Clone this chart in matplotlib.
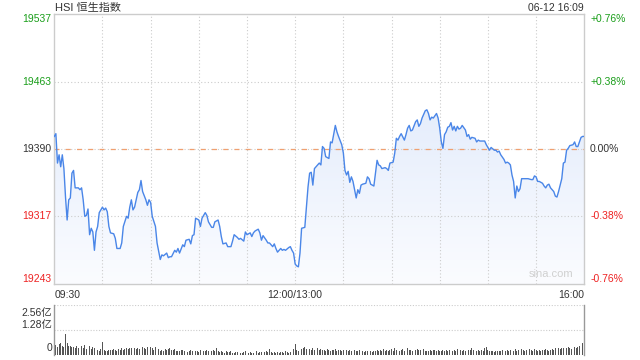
"""
HSI intraday chart (price + volume), sina style.
"""
import numpy as np
import matplotlib
matplotlib.use('Agg')
import matplotlib.pyplot as plt

plt.rcParams['font.family'] = ['Liberation Sans', 'Noto Sans CJK SC', 'DejaVu Sans']

title = 'HSI 恒生指数'
stamp = '06-12 16:09'
prev_close = 19390
y_ticks = [19243, 19317, 19390, 19463, 19537]
pct_labels = ['-0.76%', '-0.38%', '0.00%', '+0.38%', '+0.76%']
x_ticks = [0, 150, 330]
x_labels = ['09:30', '12:00/13:00', '16:00']
vol_ticks = [0, 1.28, 2.56]
vol_labels = ['0', '1.28亿', '2.56亿']

# minutes since 09:30 (lunch break removed)
minutes = [
    0, 1, 2, 3, 4, 5, 6, 7, 8, 9, 10, 11, 12, 13, 15, 16, 17, 18, 19, 20,
    21, 22, 23, 24, 25, 26, 27, 28, 30, 31, 32, 33, 34, 35, 37, 38, 39, 41, 42, 43,
    45, 46, 47, 48, 49, 50, 52, 53, 54, 55, 57, 58, 59, 60, 61, 63, 64, 66, 67, 68,
    70, 71, 72, 73, 75, 76, 77, 78, 80, 81, 82, 84, 85, 86, 87, 88, 90, 91, 92, 94,
    95, 96, 98, 99, 100, 102, 103, 104, 105, 107, 108, 110, 111, 112, 114, 115, 116, 118, 119, 120,
    122, 123, 124, 125, 127, 128, 129, 130, 132, 133, 134, 136, 137, 138, 139, 141, 142, 143, 144, 146,
    147, 148, 149, 150, 151, 152, 153, 154, 156, 157, 158, 159, 160, 161, 162, 163, 165, 166, 167, 168,
    169, 171, 172, 173, 175, 176, 177, 179, 180, 181, 182, 183, 184, 185, 186, 188, 189, 190, 191, 192,
    194, 195, 196, 197, 199, 200, 201, 202, 203, 204, 206, 207, 208, 209, 211, 212, 213, 214, 215, 216,
    218, 219, 220, 221, 222, 223, 225, 226, 227, 228, 229, 231, 232, 233, 234, 235, 236, 238, 239, 240,
    241, 242, 243, 244, 245, 246, 247, 248, 249, 250, 251, 252, 253, 254, 256, 257, 258, 259, 260, 262,
    263, 264, 265, 267, 268, 269, 270, 271, 272, 274, 275, 276, 277, 278, 280, 281, 282, 283, 284, 285,
    286, 287, 288, 289, 290, 291, 292, 294, 295, 297, 298, 299, 300, 301, 302, 304, 305, 306, 307, 308,
    309, 311, 312, 313, 314, 316, 317, 318, 319, 320, 321, 323, 324, 325, 326, 327, 328, 329, 330,
]
index_values = [
    19404, 19407, 19375, 19384, 19371, 19384, 19369, 19338, 19313, 19335, 19337, 19364, 19367, 19348, 19348, 19346, 19348, 19335, 19317, 19318,
    19325, 19297, 19304, 19300, 19280, 19300, 19306, 19321, 19327, 19324, 19326, 19322, 19306, 19299, 19298, 19293, 19282, 19282, 19288, 19306,
    19317, 19315, 19327, 19335, 19324, 19327, 19343, 19346, 19356, 19344, 19335, 19329, 19335, 19332, 19317, 19306, 19288, 19270, 19275, 19274,
    19277, 19272, 19273, 19273, 19280, 19278, 19282, 19277, 19286, 19284, 19291, 19292, 19287, 19296, 19297, 19315, 19313, 19306, 19315, 19321,
    19318, 19311, 19305, 19305, 19311, 19313, 19306, 19295, 19287, 19288, 19284, 19284, 19290, 19297, 19294, 19292, 19293, 19290, 19300, 19297,
    19299, 19295, 19299, 19301, 19303, 19299, 19291, 19296, 19291, 19288, 19288, 19284, 19287, 19282, 19278, 19282, 19280, 19281, 19280, 19283,
    19284, 19280, 19277, 19265, 19263, 19262, 19277, 19304, 19305, 19327, 19349, 19364, 19365, 19351, 19369, 19371, 19375, 19373, 19393, 19391,
    19382, 19380, 19398, 19397, 19416, 19409, 19404, 19395, 19386, 19367, 19362, 19366, 19354, 19360, 19355, 19337, 19346, 19342, 19351, 19352,
    19353, 19360, 19358, 19352, 19350, 19364, 19378, 19373, 19372, 19369, 19370, 19369, 19367, 19375, 19376, 19386, 19402, 19400, 19404, 19407,
    19400, 19406, 19413, 19416, 19410, 19411, 19420, 19422, 19415, 19418, 19424, 19432, 19433, 19429, 19422, 19425, 19424, 19429, 19424, 19413,
    19398, 19391, 19406, 19409, 19414, 19415, 19419, 19411, 19415, 19410, 19415, 19412, 19413, 19416, 19411, 19404, 19406, 19401, 19403, 19402,
    19398, 19400, 19399, 19399, 19399, 19395, 19392, 19389, 19392, 19389, 19389, 19387, 19388, 19384, 19379, 19375, 19376, 19375, 19373, 19362,
    19355, 19337, 19350, 19344, 19347, 19358, 19358, 19358, 19358, 19357, 19357, 19361, 19360, 19355, 19355, 19353, 19350, 19348, 19351, 19352,
    19348, 19344, 19339, 19338, 19344, 19358, 19375, 19376, 19389, 19391, 19394, 19395, 19398, 19393, 19393, 19398, 19403, 19404, 19404,
]

# turnover per minute, in 亿 (minute 0..330)
volume = [
    0.72, 0.50, 0.42, 0.55, 0.62, 0.45, 0.40, 1.05, 0.60, 0.48, 0.45, 0.42, 0.40, 0.38, 0.45, 0.35, 0.42, 0.48, 0.38, 0.52, 0.32, 0.55, 0.45, 0.30, 0.40, 0.35, 0.28, 0.25, 0.22, 0.30,
    0.68, 0.25, 0.22, 0.20, 0.28, 0.26, 0.25, 0.30, 0.28, 0.22, 0.30, 0.24, 0.35, 0.28, 0.32, 0.36, 0.30, 0.34, 0.35, 0.30, 0.38, 0.32, 0.36, 0.30, 0.28, 0.40, 0.35, 0.30, 0.42, 0.28,
    0.40, 0.38, 0.25, 0.42, 0.36, 0.30, 0.22, 0.28, 0.20, 0.32, 0.26, 0.30, 0.34, 0.28, 0.24, 0.30, 0.22, 0.18, 0.20, 0.26, 0.24, 0.18, 0.22, 0.16, 0.20, 0.26, 0.18, 0.15, 0.22, 0.20,
    0.16, 0.24, 0.18, 0.22, 0.20, 0.26, 0.18, 0.24, 0.20, 0.28, 0.22, 0.34, 0.22, 0.16, 0.20, 0.14, 0.12, 0.18, 0.14, 0.16, 0.20, 0.12, 0.10, 0.16, 0.14, 0.18, 0.12, 0.10, 0.14, 0.20,
    0.14, 0.12, 0.16, 0.10, 0.12, 0.14, 0.18, 0.10, 0.14, 0.16, 0.12, 0.14, 0.18, 0.16, 0.32, 0.14, 0.12, 0.16, 0.12, 0.14, 0.10, 0.14, 0.16, 0.12, 0.18, 0.14, 0.12, 0.16, 0.22, 0.30,
    0.58, 0.28, 0.22, 0.36, 0.30, 0.34, 0.40, 0.32, 0.26, 0.30, 0.24, 0.34, 0.28, 0.30, 0.38, 0.26, 0.32, 0.24, 0.28, 0.22, 0.30, 0.26, 0.20, 0.28, 0.24, 0.30, 0.20, 0.24, 0.28, 0.22,
    0.26, 0.20, 0.24, 0.18, 0.28, 0.22, 0.20, 0.26, 0.18, 0.22, 0.24, 0.18, 0.20, 0.16, 0.22, 0.18, 0.24, 0.20, 0.16, 0.18, 0.22, 0.28, 0.20, 0.24, 0.18, 0.30, 0.22, 0.26, 0.20, 0.24,
    0.30, 0.22, 0.38, 0.28, 0.24, 0.20, 0.26, 0.30, 0.22, 0.28, 0.34, 0.24, 0.28, 0.22, 0.30, 0.26, 0.32, 0.24, 0.28, 0.22, 0.30, 0.20, 0.18, 0.22, 0.26, 0.20, 0.24, 0.28, 0.22, 0.26,
    0.20, 0.18, 0.24, 0.20, 0.26, 0.22, 0.28, 0.24, 0.20, 0.26, 0.22, 0.30, 0.24, 0.28, 0.20, 0.26, 0.22, 0.32, 0.24, 0.28, 0.34, 0.26, 0.22, 0.18, 0.24, 0.20, 0.26, 0.22, 0.36, 0.40,
    0.24, 0.20, 0.18, 0.22, 0.16, 0.20, 0.18, 0.22, 0.20, 0.24, 0.18, 0.22, 0.26, 0.20, 0.24, 0.28, 0.22, 0.32, 0.20, 0.26, 0.22, 0.30, 0.24, 0.20, 0.28, 0.24, 0.32, 0.26, 0.22, 0.30,
    0.24, 0.20, 0.26, 0.22, 0.28, 0.24, 0.30, 0.26, 0.22, 0.28, 0.32, 0.26, 0.34, 0.30, 0.36, 0.32, 0.38, 0.34, 0.30, 0.36, 0.40, 0.36, 0.32, 0.38, 0.42, 0.36, 0.40, 0.48, 0.38, 0.60,
    2.60,
]

UP = '#1a9e1a'
DOWN = '#ee2222'
LINE = '#4a86e8'
GRID = '#cccccc'
TXT = '#333333'

fig = plt.figure(figsize=(6.4, 3.6), dpi=100)
ax = fig.add_axes([0.0848, 0.2103, 0.8281, 0.75])
axv = fig.add_axes([0.0848, 0.0139, 0.8281, 0.1389])

x = np.array(minutes)
y = np.array(index_values)
ymin, ymax = y_ticks[0], y_ticks[-1]

# gradient fill under the line
grad = np.linspace(0, 1, 256).reshape(-1, 1)
cmap = matplotlib.colors.LinearSegmentedColormap.from_list('f', ['#fbfcff', '#d9e5fa'])
im = ax.imshow(grad, extent=(0, 330, ymin, ymax), origin='lower', aspect='auto',
               cmap=cmap, zorder=1)
poly = ax.fill_between(x, y, ymin, color='none', lw=0)
im.set_clip_path(poly.get_paths()[0], transform=ax.transData)

ax.plot(x, y, color=LINE, lw=1.0, zorder=3)

ax.set_xlim(0, 330)
ax.set_ylim(ymin, ymax)
for xv in range(30, 330, 30):
    ax.axvline(xv, color=GRID, lw=0.8, ls=(0, (1, 2)), zorder=2)
for yv in y_ticks[1:-1]:
    ax.axhline(yv, color=GRID, lw=0.8, ls=(0, (1, 2)), zorder=2)
ax.axhline(prev_close, color='#f0a070', lw=0.9, ls=(0, (4, 5)), zorder=2)

for s in ax.spines.values():
    s.set_color(GRID)
    s.set_linewidth(1)
ax.set_xticks([])
ax.set_yticks([])

colors = [DOWN, DOWN, TXT, UP, UP]
vas = ['bottom', 'center', 'center', 'center', 'top']
ytr = ax.get_yaxis_transform()
for yv, pl, c, va in zip(y_ticks, pct_labels, colors, vas):
    ax.text(-0.006, yv, str(yv), transform=ytr, ha='right', va=va, color=c, fontsize=7.5)
    ax.text(1.011, yv, pl, transform=ytr, ha='left', va=va, color=c, fontsize=7.5)

has = ['left', 'center', 'right']
xtr = ax.get_xaxis_transform()
for xv, lab, ha in zip(x_ticks, x_labels, has):
    ax.text(xv, -0.022, lab, transform=xtr, ha=ha, va='top', color=TXT, fontsize=7.5)

fig.text(0.0855, 0.978, title, ha='left', va='center', color=TXT, fontsize=8)
fig.text(0.912, 0.978, stamp, ha='right', va='center', color=TXT, fontsize=7.5)
ax.text(0.98, 0.02, 'sina.com', transform=ax.transAxes, ha='right', va='bottom',
        color='#d0d0d0', fontsize=8)

# volume panel
vx = np.arange(len(volume))
axv.bar(vx, volume, width=0.55, color='#555555', lw=0)
axv.set_xlim(0, 330)
axv.set_ylim(0, 2.56)
for yv in vol_ticks[1:]:
    axv.axhline(yv, color=GRID, lw=0.8, ls=(0, (1, 1.5)))
for k in ['top', 'bottom']:
    axv.spines[k].set_visible(False)
for k in ['left', 'right']:
    axv.spines[k].set_color('#999999')
    axv.spines[k].set_linewidth(1)
axv.set_xticks([])
axv.set_yticks([])
for pos, lab in zip([0.14, 0.6, 0.84], vol_labels):
    axv.text(-0.004, pos, lab, transform=axv.transAxes, ha='right', va='center',
             color=TXT, fontsize=7.5)

fig.savefig('out.png', dpi=100)
